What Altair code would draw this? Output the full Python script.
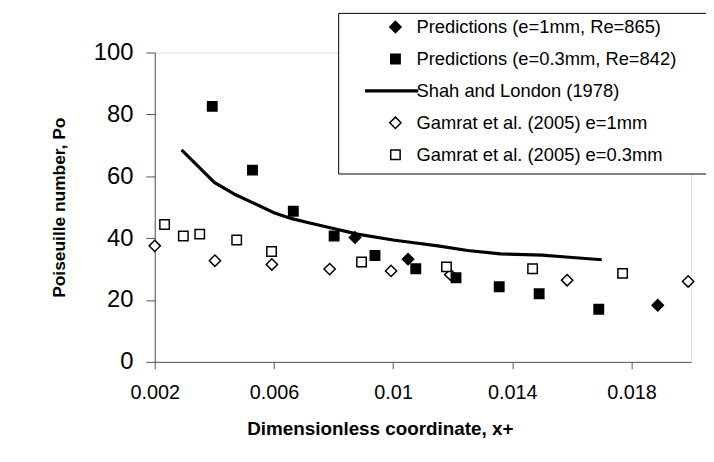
import altair as alt
import pandas as pd

# ---- data ----
series = [
    "Predictions (e=1mm, Re=865)",
    "Predictions (e=0.3mm, Re=842)",
    "Shah and London (1978)",
    "Gamrat et al. (2005) e=1mm",
    "Gamrat et al. (2005) e=0.3mm",
]

pred1_x = [0.00872, 0.0105, 0.01888]
pred1_y = [40.2, 33.2, 18.3]

pred03_x = [0.00393, 0.00528, 0.00665, 0.00802, 0.00939, 0.01076, 0.01211, 0.01356, 0.0149, 0.0169]
pred03_y = [82.6, 62.0, 48.7, 40.7, 34.4, 30.1, 27.2, 24.3, 22.0, 17.0]

shah_x = [0.0029, 0.0035, 0.0040, 0.0047, 0.0053, 0.0060, 0.0066, 0.0072, 0.0080,
          0.0088, 0.0100, 0.0107, 0.0115, 0.0125, 0.0136, 0.0150, 0.0158, 0.0170]
shah_y = [68.5, 62.8, 58.0, 54.1, 51.4, 48.2, 46.3, 44.9, 43.1,
          41.3, 39.4, 38.5, 37.5, 36.0, 34.9, 34.5, 33.9, 33.0]

gam1_x = [0.0020, 0.00402, 0.00593, 0.00787, 0.00993, 0.01192, 0.01584, 0.0199]
gam1_y = [37.5, 32.7, 31.5, 30.0, 29.4, 28.2, 26.4, 26.0]

gam03_x = [0.00233, 0.00296, 0.00351, 0.00475, 0.00592, 0.00894, 0.01179, 0.01468, 0.0177]
gam03_y = [44.4, 40.7, 41.3, 39.4, 35.7, 32.3, 30.7, 30.1, 28.6]

x_ticks = [0.002, 0.006, 0.01, 0.014, 0.018]
y_ticks = [0, 20, 40, 60, 80, 100]

# ---- tables ----
def frame(xs, ys, name):
    return pd.DataFrame({"x": xs, "po": ys, "series": name})

# open (Gamrat) markers first so predictions are drawn on top
pts = pd.concat([
    frame(gam1_x, gam1_y, series[3]),
    frame(gam03_x, gam03_y, series[4]),
    frame(pred1_x, pred1_y, series[0]),
    frame(pred03_x, pred03_y, series[1]),
], ignore_index=True)
line_df = frame(shah_x, shah_y, series[2])

FONT = "Liberation Sans"
diamond = "M-1.2,0L0,-1.2L1.2,0L0,1.2Z"
line_sym = "M-6.3,-0.17H4.7V0.17H-6.3Z"
shapes = [diamond, "square", line_sym, diamond, "square"]
fills = ["black", "black", "black", "white", "white"]
strokes = ["black"] * 5

x_enc = alt.X(
    "x:Q",
    scale=alt.Scale(domain=[0.002, 0.02], nice=False, zero=False),
    axis=alt.Axis(
        values=x_ticks, format="~g", grid=False,
        title="Dimensionless coordinate, x+",
        titleFont=FONT, titleFontSize=19, titleFontWeight="bold", titleColor="black",
        titleX=227, titleY=67, titleBaseline="middle",
        labelFont=FONT, labelFontSize=20, labelColor="black", labelPadding=14,
        tickSize=7, tickColor="#555555", domainColor="#555555",
        labelFlush=False, labelOverlap=False,
    ),
)
y_enc = alt.Y(
    "po:Q",
    scale=alt.Scale(domain=[0, 100], nice=False),
    axis=alt.Axis(
        values=y_ticks, grid=False,
        title="Poiseuille number, Po",
        titleFont=FONT, titleFontSize=17.5, titleFontWeight="bold", titleColor="black",
        titleX=-96, titleBaseline="middle",
        labelFont=FONT, labelFontSize=24, labelColor="black", labelPadding=13,
        tickSize=9, tickColor="#555555", domainColor="#555555",
        labelFlush=False, labelOverlap=False,
    ),
)

tail = "\u00a0" * 6 + "\u200b"
legend = alt.Legend(
    title=" ", titleOrient="bottom", titleFontSize=3, titlePadding=1,
    orient="none", legendX=185, legendY=-40,
    padding=5, strokeColor="black", fillColor="white",
    labelFont=FONT, labelFontSize=18.5, labelColor="black", labelLimit=600,
    labelOffset=12, symbolOffset=43.5,
    symbolSize=90, symbolStrokeWidth=1.5, symbolStrokeColor="black",
    symbolOpacity=1,
    rowPadding=13.2, labelExpr="datum.label + '" + tail + "'",
)

line = alt.Chart(line_df).mark_line(color="black", strokeWidth=3.2).encode(
    x=x_enc, y=y_enc
)

points = alt.Chart(pts).mark_point(
    filled=True, opacity=1, strokeWidth=1.5, size=90
).encode(
    x=x_enc,
    y=y_enc,
    shape=alt.Shape("series:N", scale=alt.Scale(domain=series, range=shapes), legend=legend),
    fill=alt.Fill("series:N", scale=alt.Scale(domain=series, range=fills), legend=legend),
    stroke=alt.Stroke("series:N", scale=alt.Scale(domain=series, range=strokes), legend=legend),
)

chart = alt.layer(line, points).properties(
    width=541, height=312,
    autosize=alt.AutoSizeParams(type="none"),
    padding={"left": 148, "top": 43, "right": 15, "bottom": 91},
).configure_view(stroke=None).configure(background="white")

chart.save("out.html", embed_options={"renderer": "svg", "actions": False})
